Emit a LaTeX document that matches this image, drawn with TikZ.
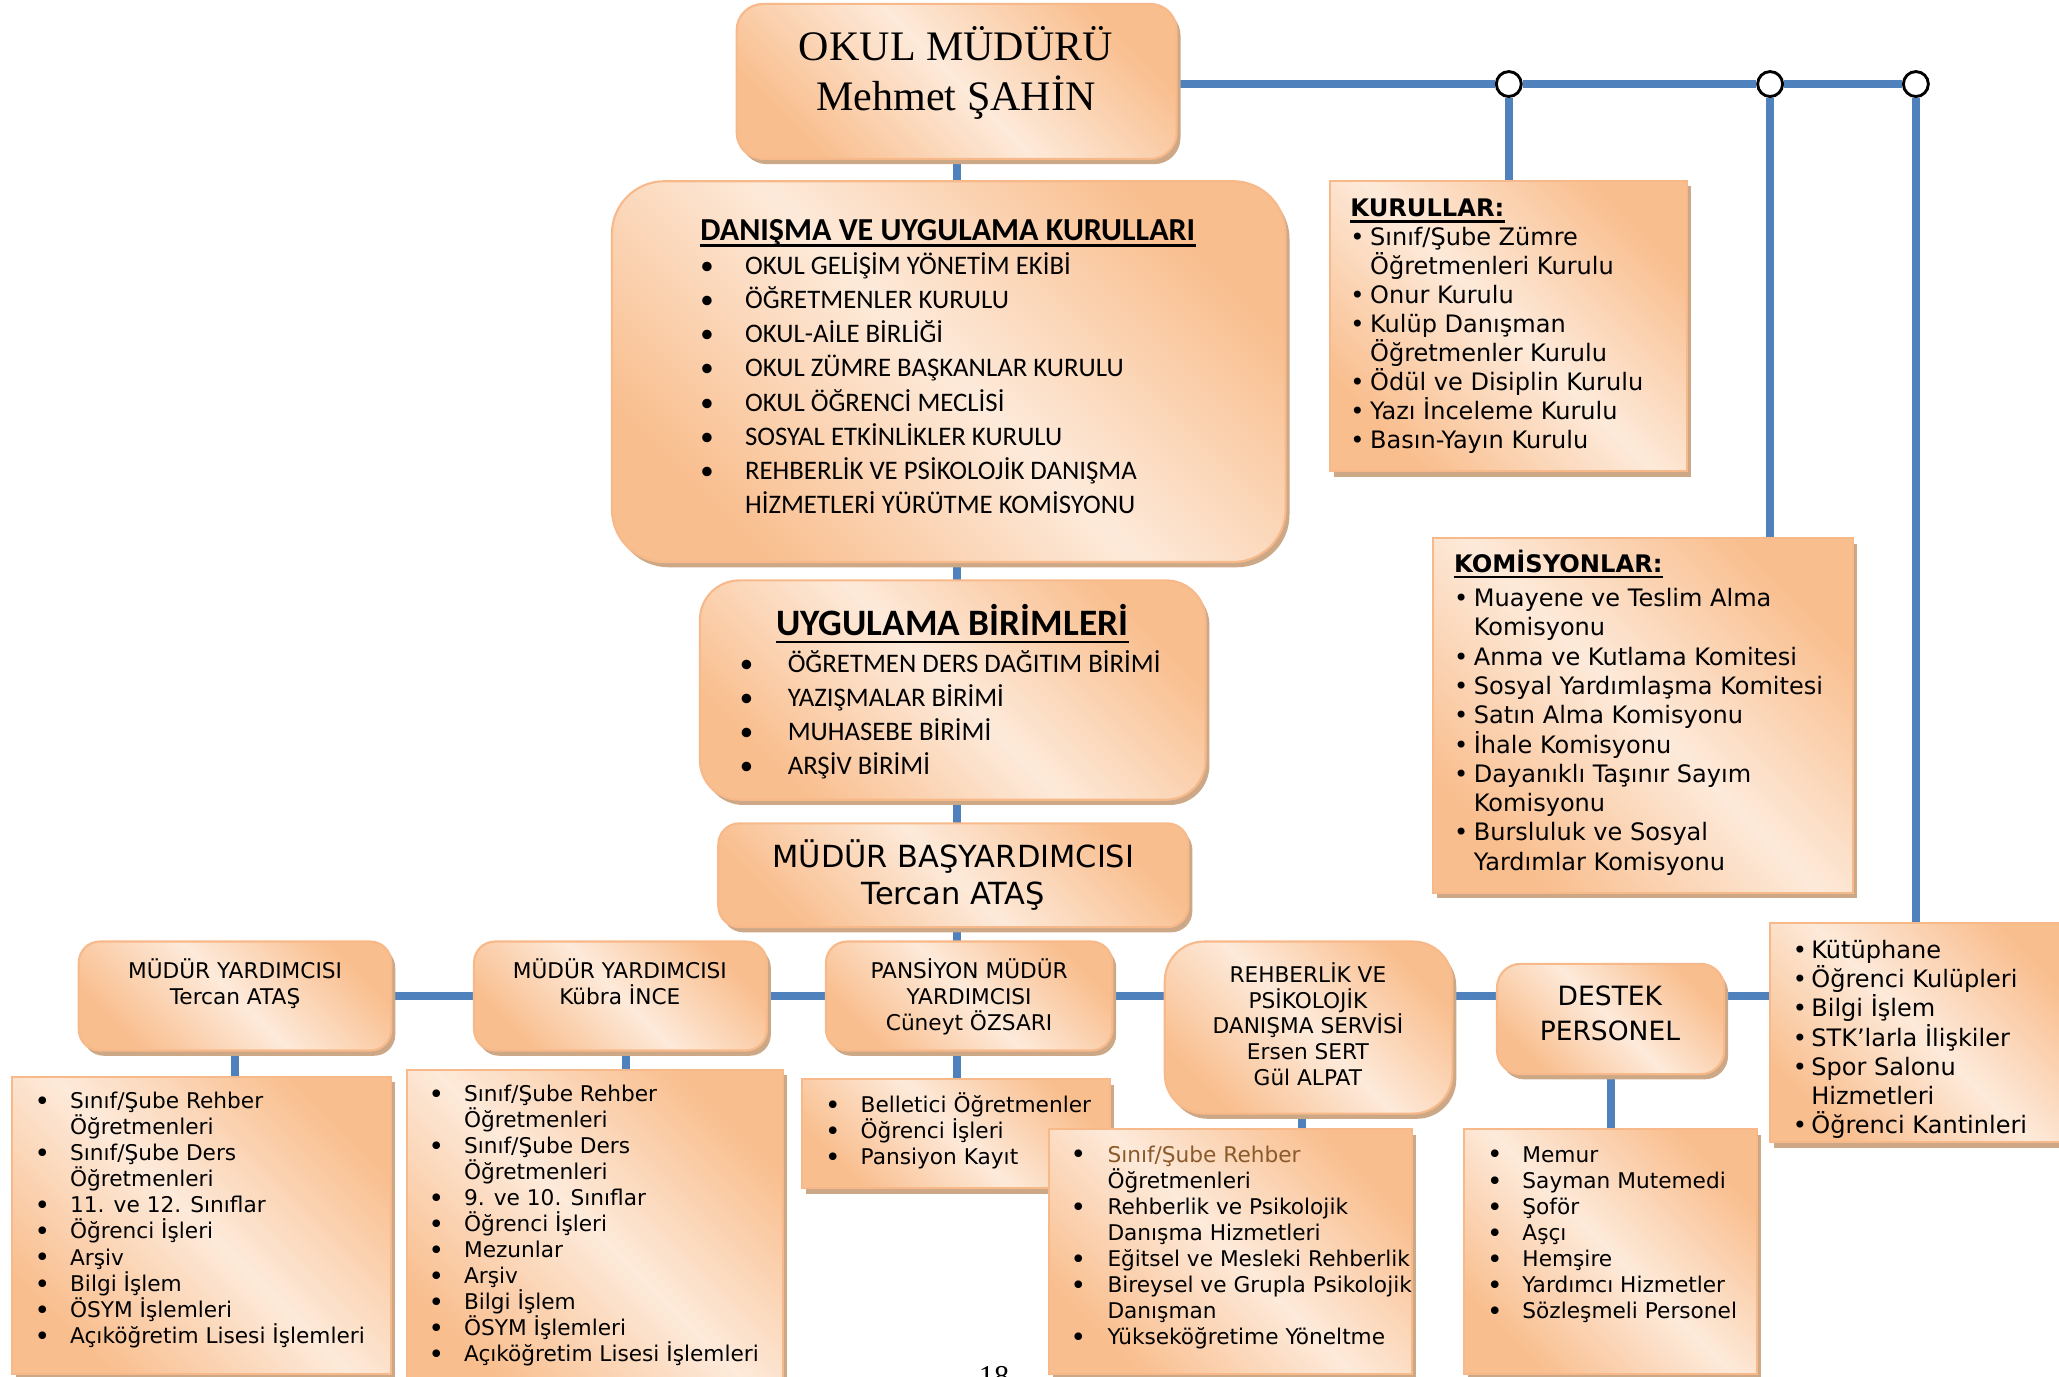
\documentclass[tikz,border=0pt]{standalone}
\usepackage{fontspec}
\setmainfont{DejaVu Sans}
\newfontfamily\serf{Liberation Serif}
\newfontfamily\calf{Carlito}
\newfontfamily\verf{DejaVu Sans}
\usetikzlibrary{shadows,fit,backgrounds}
\definecolor{lineblue}{RGB}{79,129,189}
\definecolor{orc}{RGB}{249,190,142}
\definecolor{ltc}{RGB}{253,234,218}
\definecolor{bordc}{RGB}{248,185,138}
\definecolor{shadc}{RGB}{205,168,135}
\definecolor{brownc}{RGB}{138,90,43}
\newcommand\fs[2]{\fontsize{#1}{#2}\selectfont}
% bullet list: #1 width of bullet column, #2 rows "bullet & text \cr"
\newcommand\blist[2]{\vtop{\lineskiplimit=-\maxdimen\lineskip=0pt\halign{\hbox to #1{##\hfil}&##\hfil\cr#2\crcr}}}
% centred lines
\newcommand\clist[1]{\vtop{\lineskiplimit=-\maxdimen\lineskip=0pt\halign{\hfil##\hfil\cr#1\crcr}}}
\newcommand\bb{\raisebox{-0.7pt}{\fontsize{10}{1}\selectfont •}}
\begin{document}
\begin{tikzpicture}[x=0.5pt,y=-0.5pt,
  blu/.style={draw=lineblue, line width=3pt},
  rbox/.style={draw=bordc, line width=0.8pt, left color=orc, right color=orc, middle color=ltc, shading angle=135,
     drop shadow={shadow xshift=1.5pt, shadow yshift=-2pt, fill=shadc, opacity=1}, inner sep=0pt},
  sbox/.style={rbox, sharp corners},
  txt/.style={inner sep=0pt, anchor=base west},
  ctxt/.style={inner sep=0pt, anchor=base},
  knot/.style={circle, draw=black, fill=white, line width=1.1pt, minimum size=9.5pt, inner sep=0pt},
  uline/.style={line width=0.9pt}]
\useasboundingbox (0,0) rectangle (1568,1048);

% ---------- title
\node[rbox, rounded corners=10pt, fit={(561,3) (896,121)}] (title) {};
\node[ctxt, font=\serf\fs{16}{19}] (titlet) at (728,46) {\clist{OKUL MÜDÜRÜ\cr Mehmet ŞAHİN}};

% ---------- danisma
\node[rbox, rounded corners=20pt, fit={(466,138) (979,428)}] (dan) {};
\node[txt, font=\calf\bfseries\fs{12.2}{14}] (dant) at (533,183) {DANIŞMA VE UYGULAMA KURULLARI};
\draw[uline] ([yshift=-2pt]dant.base west) -- ([yshift=-2pt]dant.base east);
\node[txt, font=\calf\fs{10.2}{13}] (danl) at (533,209) {\blist{17pt}{
•&OKUL GELİŞİM YÖNETİM EKİBİ\cr
•&ÖĞRETMENLER KURULU\cr
•&OKUL-AİLE BİRLİĞİ\cr
•&OKUL ZÜMRE BAŞKANLAR KURULU\cr
•&OKUL ÖĞRENCİ MECLİSİ\cr
•&SOSYAL ETKİNLİKLER KURULU\cr
•&REHBERLİK VE PSİKOLOJİK DANIŞMA\cr
&HİZMETLERİ YÜRÜTME KOMİSYONU}};

% ---------- uygulama
\node[rbox, rounded corners=15pt, fit={(533,442) (918,609)}] (uyg) {};
\node[txt, font=\calf\bfseries\fs{14.2}{16}] (uygt) at (591,484) {UYGULAMA BİRİMLERİ};
\draw[uline] ([yshift=-2.5pt]uygt.base west) -- ([yshift=-2.5pt]uygt.base east);
\node[txt, font=\calf\fs{10.2}{13}] (uygl) at (563,512) {\blist{18.25pt}{
•&ÖĞRETMEN DERS DAĞITIM BİRİMİ\cr
•&YAZIŞMALAR BİRİMİ\cr
•&MUHASEBE BİRİMİ\cr
•&ARŞİV BİRİMİ}};

% ---------- mudur basyardimcisi
\node[rbox, rounded corners=8pt, fit={(547,627) (905,706)}] (mba) {};
\node[ctxt, font=\verf\fs{11.6}{14}] (mbat) at (726,661) {\clist{MÜDÜR BAŞYARDIMCISI\cr Tercan ATAŞ}};

% ---------- kurullar
\node[sbox, fit={(1013,138) (1285,359)}] (kur) {};
\node[txt, font=\verf\bfseries\fs{9.2}{11}] (kurt) at (1028,165) {KURULLAR:};
\draw[uline] ([yshift=-1.8pt]kurt.base west) -- ([yshift=-1.8pt]kurt.base east);
\node[txt, font=\verf\fs{9.15}{11.02}] (kurl) at (1028,187) {\blist{7.5pt}{
•&Sınıf/Şube Zümre\cr
&Öğretmenleri Kurulu\cr
•&Onur Kurulu\cr
•&Kulüp Danışman\cr
&Öğretmenler Kurulu\cr
•&Ödül ve Disiplin Kurulu\cr
•&Yazı İnceleme Kurulu\cr
•&Basın-Yayın Kurulu}};

% ---------- komisyonlar
\node[sbox, fit={(1091,410) (1411,680)}] (kom) {};
\node[txt, font=\verf\bfseries\fs{9.2}{11}] (komt) at (1107,436) {KOMİSYONLAR:};
\draw[uline] ([yshift=-1.8pt]komt.base west) -- ([yshift=-1.8pt]komt.base east);
\node[txt, font=\verf\fs{9.15}{11.15}] (koml) at (1107,462) {\blist{7.5pt}{
•&Muayene ve Teslim Alma\cr
&Komisyonu\cr
•&Anma ve Kutlama Komitesi\cr
•&Sosyal Yardımlaşma Komitesi\cr
•&Satın Alma Komisyonu\cr
•&İhale Komisyonu\cr
•&Dayanıklı Taşınır Sayım\cr
&Komisyonu\cr
•&Bursluluk ve Sosyal\cr
&Yardımlar Komisyonu}};

% ---------- right box
\node[sbox, fit={(1348,703) (1580,870)}] (rb) {};
\node[txt, font=\verf\fs{9.15}{11.1}] (rbl) at (1365,730) {\blist{7pt}{
•&Kütüphane\cr
•&Öğrenci Kulüpleri\cr
•&Bilgi İşlem\cr
•&STK’larla İlişkiler\cr
•&Spor Salonu\cr
&Hizmetleri\cr
•&Öğrenci Kantinleri}};

% ---------- second row boxes
\node[rbox, rounded corners=8pt, fit={(60,717) (298,800)}] (my1) {};
\node[ctxt, font=\verf\fs{8.25}{10}] (my1t) at (179,745) {\clist{MÜDÜR YARDIMCISI\cr Tercan ATAŞ}};
\node[rbox, rounded corners=8pt, fit={(361,717) (584,800)}] (my2) {};
\node[ctxt, font=\verf\fs{8.25}{10}] (my2t) at (472,745) {\clist{MÜDÜR YARDIMCISI\cr Kübra İNCE}};
\node[rbox, rounded corners=8pt, fit={(629,717) (847,800)}] (pans) {};
\node[ctxt, font=\verf\fs{8.25}{9.9}] (panst) at (738,745) {\clist{PANSİYON MÜDÜR\cr YARDIMCISI\cr Cüneyt ÖZSARI}};
\node[rbox, rounded corners=15pt, fit={(887,717) (1106,848)}] (rehb) {};
\node[ctxt, font=\verf\fs{8.25}{9.85}] (rehbt) at (996,748) {\clist{REHBERLİK VE\cr PSİKOLOJİK\cr DANIŞMA SERVİSİ\cr Ersen SERT\cr Gül ALPAT}};
\node[rbox, rounded corners=9pt, fit={(1140,734) (1313,818)}] (dest) {};
\node[ctxt, font=\verf\fs{10.1}{13}] (destt) at (1226,766) {\clist{DESTEK\cr PERSONEL}};

% ---------- lower lists
\node[sbox, fit={(9,820) (298,1046)}] (l1) {};
\node[txt, font=\verf\fs{8.25}{9.95}] (l1t) at (26,844) {\blist{13.5pt}{
\bb&Sınıf/Şube Rehber\cr
&Öğretmenleri\cr
\bb&Sınıf/Şube Ders\cr
&Öğretmenleri\cr
\bb&11. ve 12. Sınıflar\cr
\bb&Öğrenci İşleri\cr
\bb&Arşiv\cr
\bb&Bilgi İşlem\cr
\bb&ÖSYM İşlemleri\cr
\bb&Açıköğretim Lisesi İşlemleri}};

\node[sbox, fit={(310,815) (596,1060)}] (l2) {};
\node[txt, font=\verf\fs{8.25}{9.9}] (l2t) at (326,839) {\blist{13.5pt}{
\bb&Sınıf/Şube Rehber\cr
&Öğretmenleri\cr
\bb&Sınıf/Şube Ders\cr
&Öğretmenleri\cr
\bb&9. ve 10. Sınıflar\cr
\bb&Öğrenci İşleri\cr
\bb&Mezunlar\cr
\bb&Arşiv\cr
\bb&Bilgi İşlem\cr
\bb&ÖSYM İşlemleri\cr
\bb&Açıköğretim Lisesi İşlemleri}};

\node[sbox, fit={(611,822) (845,905)}] (l3) {};
\node[txt, font=\verf\fs{8.25}{10}] (l3t) at (628,847) {\blist{13.5pt}{
\bb&Belletici Öğretmenler\cr
\bb&Öğrenci İşleri\cr
\bb&Pansiyon Kayıt}};

\node[sbox, fit={(799,860) (1075,1046)}] (l4) {};
\node[txt, font=\verf\fs{8.25}{9.93}] (l4t) at (815,885) {\blist{14pt}{
\bb&\textcolor{brownc}{Sınıf/Şube Rehber}\cr
&Öğretmenleri\cr
\bb&Rehberlik ve Psikolojik\cr
&Danışma Hizmetleri\cr
\bb&Eğitsel ve Mesleki Rehberlik\cr
\bb&Bireysel ve Grupla Psikolojik\cr
&Danışman\cr
\bb&Yükseköğretime Yöneltme}};

\node[sbox, fit={(1115,860) (1338,1046)}] (l5) {};
\node[txt, font=\verf\fs{8.25}{9.93}] (l5t) at (1132,885) {\blist{13.5pt}{
\bb&Memur\cr
\bb&Sayman Mutemedi\cr
\bb&Şoför\cr
\bb&Aşçı\cr
\bb&Hemşire\cr
\bb&Yardımcı Hizmetler\cr
\bb&Sözleşmeli Personel}};

% page number (cut by the page edge, as in the source)
\node[ctxt, font=\serf\fs{11.5}{13}] (pg) at (757,1056) {18};

% ---------- knots
\node[knot] (c1) at (1149,64) {};
\node[knot] (c2) at (1348,64) {};
\node[knot] (c3) at (1459,64) {};

% ---------- connectors
\begin{pgfonlayer}{background}
\draw[blu] (title.south) -- (title.south |- l3.north);
\draw[blu] (my1.east) -- (rb.west |- my1.east);
\draw[blu] (my1.south) -- (my1.south |- l1.north);
\draw[blu] ([xshift=2pt]my2.south) -- ([xshift=2pt]my2.south |- l2.north);
\draw[blu] ([xshift=-2.5pt]rehb.south) -- ([xshift=-2.5pt]rehb.south |- l4.north);
\draw[blu] (dest.south) -- (dest.south |- l5.north);
\draw[blu] (title.east |- c1) -- (c1) -- (c2) -- (c3);
\draw[blu] (c1) -- (c1 |- kur.north);
\draw[blu] (c2) -- (c2 |- kom.north);
\draw[blu] (c3) -- (c3 |- rb.north);
\end{pgfonlayer}
\end{tikzpicture}
\end{document}
